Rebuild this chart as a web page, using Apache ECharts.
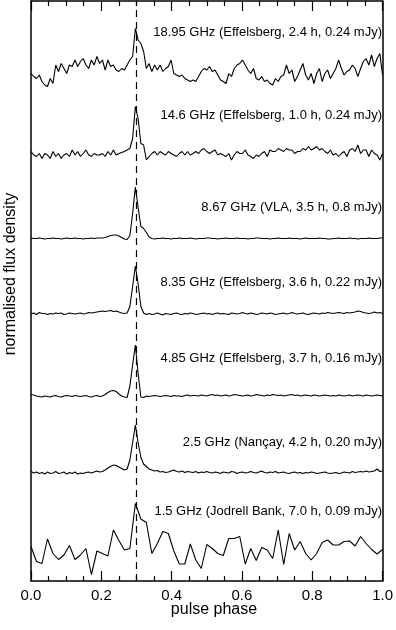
<!DOCTYPE html>
<html>
<head>
<meta charset="utf-8">
<script src="https://cdn.jsdelivr.net/npm/echarts@6/dist/echarts.min.js"></script>
<style>
  html, body { margin: 0; padding: 0; background: #fff; }
  #main { width: 396px; height: 630px; }
</style>
</head>
<body>
<div id="main"></div>
<script>
// profile labels, top to bottom
const labels = [
  "18.95 GHz (Effelsberg, 2.4 h, 0.24 mJy)",
  "14.6 GHz (Effelsberg, 1.0 h, 0.24 mJy)",
  "8.67 GHz (VLA, 3.5 h, 0.8 mJy)",
  "8.35 GHz (Effelsberg, 3.6 h, 0.22 mJy)",
  "4.85 GHz (Effelsberg, 3.7 h, 0.16 mJy)",
  "2.5 GHz (Nançay, 4.2 h, 0.20 mJy)",
  "1.5 GHz (Jodrell Bank, 7.0 h, 0.09 mJy)"
];
// vertical offset of each profile baseline (same order)
const offsets = [10.12, 8.52, 6.85, 5.34, 3.70, 2.17, 0.62];
const xTicks = [0, 0.2, 0.4, 0.6, 0.8, 1.0];

// normalised profiles, 128 phase bins (+ wrap point)
const p1895 = [0.03,-0.03,-0.07,0,-0.13,-0.2,-0.23,-0.07,-0.17,0.2,
  0.07,0.23,0.13,0.03,0.2,0.17,0.3,0.17,0.27,0.33,
  0.2,0.13,0.3,0.2,0.37,0.23,0.3,0.1,0.3,0.17,
  0.2,0.1,0.07,0.13,0.1,0.2,0.3,0.37,0.93,0.7,
  0.63,0.47,0.13,0.23,0.07,0.2,0.1,0.2,0.07,0.13,
  0.17,0.3,0.03,0,-0.03,0,-0.07,-0.1,-0.13,-0.1,
  -0.13,-0.03,0.07,0.13,0.1,0.17,0.07,0.1,0,-0.1,
  -0.13,-0.17,0.03,-0.03,0.13,0.2,0.23,0.3,0.2,0.1,
  0.03,0.13,-0.07,-0.1,-0.03,-0.13,-0.1,-0.17,-0.2,-0.07,
  -0.13,-0.03,0,0.2,0.03,0.1,-0.13,-0.03,0.1,0.23,
  0,-0.1,0.03,-0.17,0.03,0.13,-0.13,0.03,0.1,-0.07,
  0.03,0.13,0.3,0.13,0,0.07,0.1,0.2,0.13,-0.03,
  0.13,0.27,0.33,0.2,0.4,0.17,0.33,0.43,0];

const p146 = [0.07,0,-0.03,0.03,-0.07,0.03,0,-0.07,0.07,-0.03,
  0.03,-0.07,0,0.03,-0.03,0.1,0,0.07,-0.03,0.03,
  0.1,0,-0.03,0.03,0,0,0.03,-0.03,0.07,0,
  0.1,0,0.03,0.05,0.07,0.1,0.13,0.33,0.97,0.73,
  0.23,0.2,-0.1,-0.03,0.03,0.07,0,0.07,0.03,0,
  0.07,0.03,0,-0.03,0.03,0.07,0,0.07,0,0.03,
  0.07,0.03,0.1,0.13,0.07,0.03,0.07,0.1,0,0.03,
  0,-0.03,0.03,-0.1,0,0.07,0.03,0.03,0.1,0,
  -0.03,-0.07,0,-0.03,0.03,0.07,-0.03,0.1,0.07,0.07,
  0.13,0.1,0.07,0.13,0.1,0.1,0.03,0.07,0.07,0.13,
  0.1,0.17,0.1,0.13,0.17,0.1,0.13,0.07,0.03,0.1,
  0,0.03,-0.03,0.03,0.07,-0.03,0.1,0.13,0.07,0.2,
  0.03,0.1,0.1,-0.03,0.1,0.03,0,-0.1,0.03];

const p867 = [0.01,0,0,0.01,0,-0.01,0,0,0.01,0,
  0,-0.01,0,0.01,0,0,0.01,0,0,-0.01,
  0,0,0.01,0,0.01,0.01,0.01,
  0.02,0.04,0.06,0.07,0.07,0.05,0.02,
  -0.01,-0.02,0.06,0.5,1.03,0.62,0.24,0.2,0.12,0.03,0,
  -0.01,0,0,0.01,0,0,-0.01,0,0,0.01,
  0,0,0,0.01,0,-0.01,0,0,0,0.01,
  0.01,0,0,-0.01,0,0,0.01,0,0,0,
  0.01,0,0,0,-0.01,0,0,0.01,0.01,0,
  0,0,-0.01,0,0,0.01,0,0,0,0.01,
  0,0,0,-0.01,0,0.01,0,0,0,0,
  0.01,0,0,-0.01,-0.01,0,0,0.01,0,0,
  0,0.01,0,0,-0.01,0,0,0,0.01,0,
  0,0,0.01,0.01];

const p835 = [0,0.02,-0.01,0.03,0.01,0.01,-0.01,0.01,0,0.02,
  0.01,0.02,-0.01,0,0.02,0.01,0,0.01,0.02,0,
  0.01,0.03,0.02,0.03,0.04,0.05,0.06,0.05,0.06,0.07,
  0.05,0.06,0.04,0.02,0.01,0.02,0.15,0.55,0.96,0.6,
  0.15,0.02,-0.01,0.01,-0.01,0,0.02,0,-0.02,0.01,
  0,-0.01,0.01,0.02,0,-0.01,0.01,0,0.02,0.01,
  -0.01,0,0.01,0.02,0,0.01,-0.01,0.01,0.02,0,
  0.01,0,-0.01,0.02,0.01,0,0.01,0.03,0.01,0,
  0.02,0.01,-0.01,0,0.02,0.01,0,0.02,0.01,-0.01,
  0,0.01,0.02,0,0.01,0.03,0.01,0,0.01,0.02,
  0,-0.01,0.01,0.02,0.01,0,0.02,0.01,0.03,0.02,
  0.01,0.02,0.03,0.02,0.01,0.03,0.02,0.03,0.04,0.06,
  0.05,0.03,0.02,0.01,0.02,0.04,0.02,0.03,0.01];

const p485 = [0.03,0.02,0,-0.01,-0.02,0,-0.01,-0.02,0,0.01,
  -0.01,-0.02,0,0.01,0,-0.01,0.01,0,-0.01,0,
  0.01,-0.01,-0.02,0,0.01,-0.01,0,0.03,0.07,0.1,
  0.11,0.09,0.04,0,-0.02,-0.03,0.2,0.62,1.02,0.45,
  -0.02,-0.03,0,-0.01,0,0.01,0,-0.01,0,0.01,
  0,-0.01,0.01,0,0,-0.01,0.01,0.02,0,0.01,
  0.01,0,0.02,0.01,0,0.02,0.03,0.01,0.02,0,
  0.01,0.02,0,0.01,0.03,0.02,0.01,0,0.01,0.02,
  0,0.01,0.03,0.02,0.01,0,0.02,0.01,0.03,0.02,
  0.01,0.02,0,0.01,0.02,0.03,0.01,0.02,0,0.01,
  0.02,0.01,0,0.02,0.01,0,0.01,0.02,0.01,0,
  0.01,0,0.02,0.01,0,0.01,0.02,0,0.01,0.02,
  0.01,0,0.02,0.01,0,0.01,0.02,0.01,0];

const p25 = [0.02,-0.01,0.01,-0.02,0,-0.03,0.01,-0.02,-0.01,0.02,
  -0.02,-0.01,0.01,-0.03,0,-0.02,0.01,-0.03,-0.01,-0.02,
  0,0.01,-0.01,0.01,0.03,0.01,0.02,0.05,0.09,0.12,
  0.15,0.14,0.11,0.08,0.05,0.07,0.25,0.6,0.95,0.6,
  0.3,0.17,0.12,0.07,0.05,0.03,0.04,0.01,0.02,0,
  0.01,0.03,0.05,0.02,0.01,0.03,0,0.02,0.01,0,
  0.02,-0.01,0.01,0,0.02,0,-0.01,0.01,0,-0.02,
  0.01,0,-0.01,0.02,0.01,-0.02,0,0.01,-0.01,0,
  0.02,0,-0.01,0.01,0.03,0,-0.01,0.01,0,0.02,
  -0.01,0,0.01,-0.01,-0.02,0,0.01,-0.01,0,-0.02,
  0,-0.01,0.01,0,-0.02,-0.01,0,0.01,-0.01,-0.02,
  -0.01,0,-0.02,-0.01,0.01,0,-0.01,0.02,0,0.01,
  0.02,0.01,0.03,0.01,0.02,0.03,0.07,0.02,0.03];

// 1.5 GHz profile, 64 phase bins (+ wrap point)
const p15 = [0.07,-0.23,-0.27,0.22,-0.07,-0.19,-0.1,0.09,-0.19,-0.1,
  0.03,-0.49,-0.02,-0.07,-0.12,0.4,0.19,0,0.03,0.93,
  0.62,0.55,-0.07,0.13,0.37,0.33,-0.02,-0.28,-0.28,0.12,
  -0.2,-0.37,0.11,0.03,-0.07,-0.11,0.23,0.23,0.27,-0.28,
  0.03,-0.21,0.05,0,-0.17,0.4,-0.29,0.33,0,0.17,
  -0.07,-0.2,-0.07,0.15,0.2,0.1,0.1,0.17,0.18,0.08,
  0.27,0.13,0.01,-0.08,0.01];

const profiles = [p1895, p146, p867, p835, p485, p25, p15];

const chart = echarts.init(document.getElementById("main"), null, { renderer: "canvas" });

const font = "'Liberation Sans', Arial, Helvetica, sans-serif";
const black = "#000";

function axisX(pos, showLabel) {
  return {
    type: "value",
    position: pos,
    min: 0,
    max: 1,
    interval: 0.2,
    axisLine: { show: true, onZero: false, lineStyle: { color: black, width: 1.5 } },
    axisTick: { show: true, inside: true, length: 10, lineStyle: { color: black, width: 1.2 } },
    minorTick: { show: true, splitNumber: 4, length: 5, lineStyle: { color: black, width: 1.2 } },
    splitLine: { show: false },
    axisLabel: {
      show: showLabel,
      margin: 7,
      color: black,
      fontFamily: font,
      fontSize: 15,
      formatter: (v) => (xTicks.includes(+v.toFixed(1)) ? v.toFixed(1) : "")
    }
  };
}

function axisY(pos) {
  return {
    type: "value",
    position: pos,
    min: 0,
    max: 11.6,
    axisLine: { show: true, onZero: false, lineStyle: { color: black, width: 1.5 } },
    axisTick: { show: false },
    axisLabel: { show: false },
    splitLine: { show: false }
  };
}

const series = profiles.map((prof, k) => {
  const n = prof.length - 1;
  return {
    type: "line",
    xAxisIndex: 0,
    yAxisIndex: 0,
    showSymbol: false,
    symbol: "none",
    animation: false,
    lineStyle: { color: black, width: 1.1 },
    data: prof.map((v, i) => [i / n, offsets[k] + v]),
    markLine: k === 0 ? {
      silent: true,
      symbol: ["none", "none"],
      label: { show: false },
      lineStyle: { color: black, width: 1.2, type: [7, 5] },
      data: [{ xAxis: 0.3 }]
    } : undefined
  };
});

// label centres (pixel y) for the profile captions
const labelY = [32, 115, 207, 282, 358, 442, 511];

const graphic = labels.map((t, k) => ({
  type: "text",
  x: 382,
  y: labelY[k],
  style: {
    text: t,
    fill: black,
    font: "13px " + font,
    textAlign: "right",
    textVerticalAlign: "middle"
  }
}));
graphic.push({
  type: "text",
  x: 214,
  y: 610,
  style: { text: "pulse phase", fill: black, font: "16px " + font, textAlign: "center", textVerticalAlign: "middle" }
});
graphic.push({
  type: "text",
  x: 11,
  y: 274,
  rotation: Math.PI / 2,
  style: { text: "normalised flux density", fill: black, font: "16px " + font, textAlign: "center", textVerticalAlign: "middle" }
});

chart.setOption({
  animation: false,
  backgroundColor: "#fff",
  grid: { left: 31, right: 10, top: 1, bottom: 49, containLabel: false },
  xAxis: [axisX("bottom", true), axisX("top", false)],
  yAxis: [axisY("left"), axisY("right")],
  series: series,
  graphic: graphic
});
</script>
</body>
</html>
